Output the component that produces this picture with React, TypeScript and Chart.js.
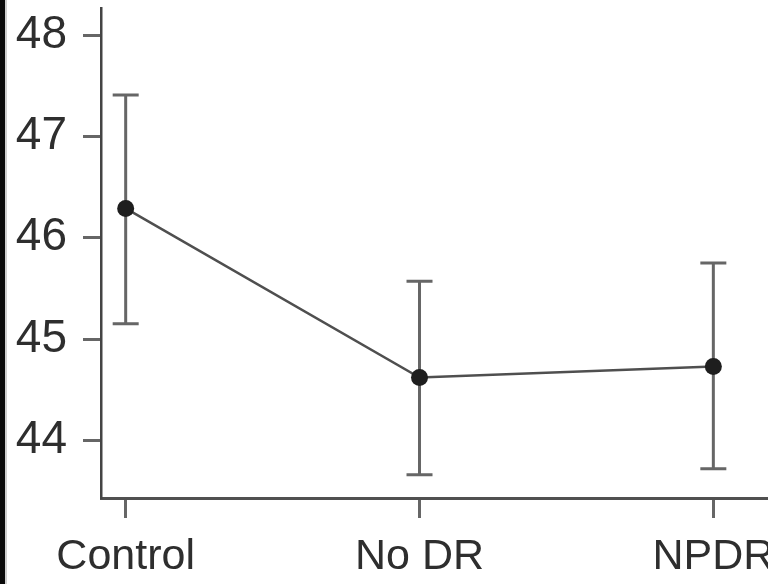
import React, { useEffect, useRef } from "react";
import { Chart, registerables } from "chart.js";

Chart.register(...registerables);

const categories = ["Control", "No DR", "NPDR"];
const means = [46.29, 44.62, 44.73];
const upper = [47.41, 45.57, 45.75];
const lower = [45.15, 43.66, 43.72];
const yTicks = [44, 45, 46, 47, 48];

const errorBarPlugin = {
  id: "errorBars",
  beforeDatasetsDraw(chart: any) {
    const ctx = chart.ctx;
    const xs = chart.scales.x;
    const ys = chart.scales.y;
    ctx.save();
    ctx.strokeStyle = "#666666";
    ctx.lineWidth = 3;
    categories.forEach((_, i) => {
      const x = xs.getPixelForValue(i);
      const yt = ys.getPixelForValue(upper[i]);
      const yb = ys.getPixelForValue(lower[i]);
      ctx.beginPath();
      ctx.moveTo(x, yt);
      ctx.lineTo(x, yb);
      ctx.moveTo(x - 13, yt);
      ctx.lineTo(x + 13, yt);
      ctx.moveTo(x - 13, yb);
      ctx.lineTo(x + 13, yb);
      ctx.stroke();
    });
    ctx.restore();
  },
};

const bgPlugin = {
  id: "bgStrip",
  beforeDraw(chart: any) {
    const ctx = chart.ctx;
    ctx.save();
    ctx.fillStyle = "#ffffff";
    ctx.fillRect(0, 0, chart.width, chart.height);
    ctx.fillStyle = "#0a0a0a";
    ctx.fillRect(0, 0, 5, chart.height);
    ctx.fillStyle = "#cfcfcf";
    ctx.fillRect(5, 0, 2, chart.height);
    ctx.restore();
  },
};

export default function App() {
  const ref = useRef<HTMLCanvasElement | null>(null);
  useEffect(() => {
    if (!ref.current) return;
    const chart = new Chart(ref.current, {
      type: "line",
      data: {
        datasets: [
          {
            data: means.map((m, i) => ({ x: i, y: m })),
            borderColor: "#4f4f4f",
            borderWidth: 2.5,
            pointRadius: 8.5,
            pointBackgroundColor: "#1e1e1e",
            pointBorderWidth: 0,
            fill: false,
            tension: 0,
          },
        ],
      },
      options: {
        animation: false,
        responsive: false,
        layout: { padding: { left: 0, right: 0, top: 6, bottom: 0 } },
        plugins: { legend: { display: false }, tooltip: { enabled: false } },
        scales: {
          x: {
            type: "linear",
            min: -0.084,
            max: 2.266,
            afterBuildTicks: (s: any) => {
              s.ticks = categories.map((_, i) => ({ value: i }));
            },
            afterFit: (s: any) => {
              s.height = 86;
              s.paddingLeft = 0;
              s.paddingRight = 0;
            },
            grid: {
              drawOnChartArea: false,
              drawTicks: true,
              tickLength: 20,
              tickWidth: 3,
              tickColor: "#666666",
            },
            border: { display: true, color: "#505050", width: 3 },
            ticks: {
              autoSkip: false,
              maxRotation: 0,
              padding: 13,
              color: "#2e2e2e",
              font: { family: "Liberation Sans", size: 43 },
              callback: (v: any) => categories[Math.round(Number(v))] ?? "",
            },
          },
          y: {
            type: "linear",
            min: 43.43,
            max: 48.265,
            afterBuildTicks: (s: any) => {
              s.ticks = yTicks.map((v) => ({ value: v }));
            },
            afterFit: (s: any) => {
              s.width = 101;
              s.paddingTop = 0;
              s.paddingBottom = 0;
            },
            grid: {
              drawOnChartArea: false,
              drawTicks: true,
              tickLength: 18,
              tickWidth: 3,
              tickColor: "#666666",
            },
            border: { display: true, color: "#444444", width: 2.5 },
            ticks: {
              padding: 16,
              color: "#2e2e2e",
              font: { family: "Liberation Sans", size: 46 },
              callback: (v: any) => String(v),
            },
          },
        },
      },
      plugins: [bgPlugin, errorBarPlugin],
    });
    return () => chart.destroy();
  }, []);
  return (
    <div style={{ position: "fixed", left: 0, top: 0, width: 768, height: 584, overflow: "hidden" }}>
      <canvas ref={ref} width={800} height={584} />
    </div>
  );
}
